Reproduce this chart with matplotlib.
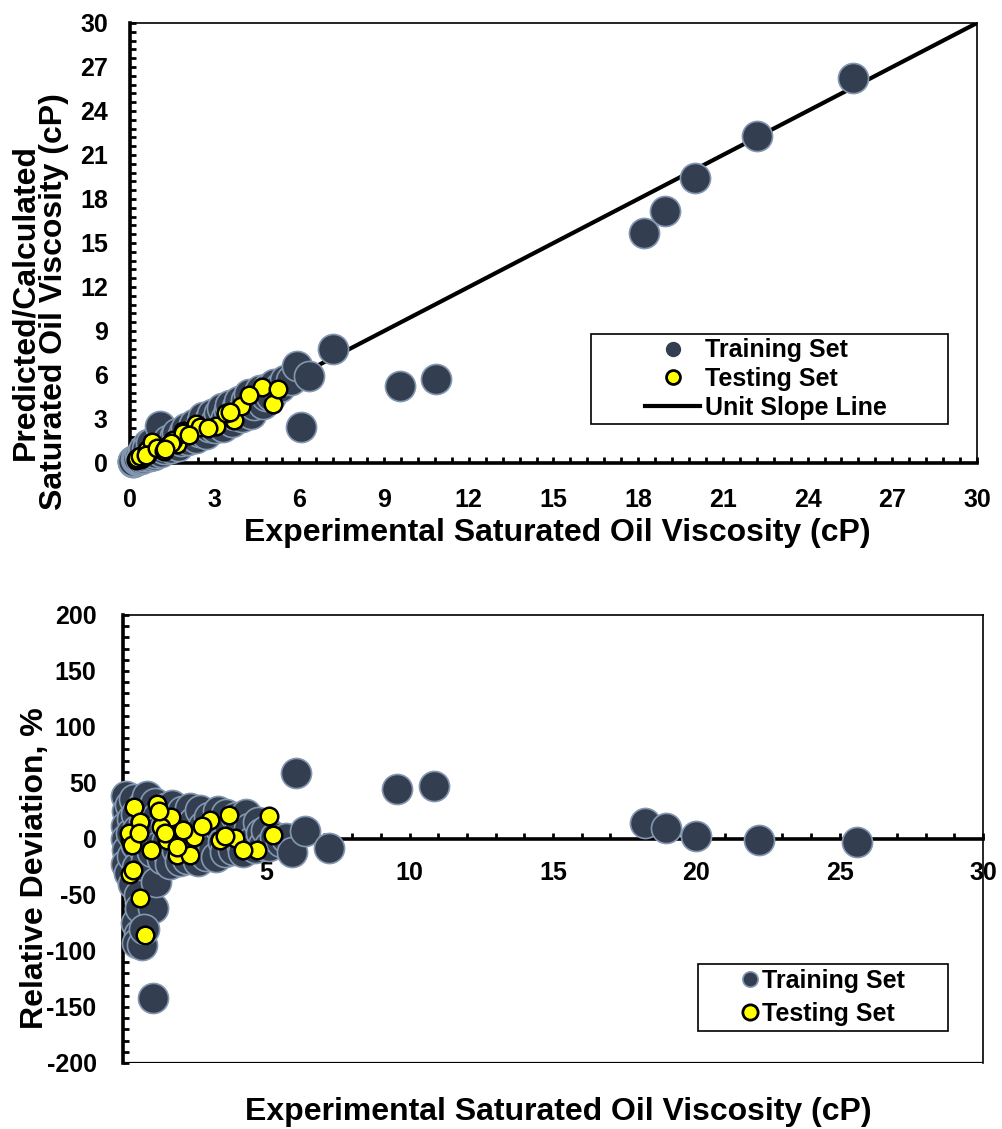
import numpy as np
import matplotlib
matplotlib.use('Agg')
import matplotlib.pyplot as plt
from matplotlib.lines import Line2D
from matplotlib.patches import Rectangle
from matplotlib.ticker import MultipleLocator, FuncFormatter

plt.rcParams['font.family'] = ['Liberation Sans', 'DejaVu Sans']
plt.rcParams['font.weight'] = 'bold'
plt.rcParams['axes.unicode_minus'] = False

# training set: experimental viscosity (cP) and relative deviation (%)
train_exp = [0.10, 0.15, 0.12, 0.10, 0.15, 0.12, 0.20, 0.25, 0.30, 0.28,
             0.30, 0.35, 0.40, 0.45, 0.50, 0.45, 0.50, 0.55, 0.45, 0.55,
             0.50, 0.65, 0.60, 0.70, 0.75, 0.70, 0.80, 0.85, 0.90, 0.95,
             1.00, 1.05, 1.15, 0.75, 1.05,
             1.10, 1.20, 1.25, 1.30, 1.35, 1.45, 1.50, 1.55, 1.60, 1.65,
             1.70, 1.80, 1.85, 1.90, 2.00, 2.05, 2.15, 2.20, 2.25, 2.35,
             2.45, 2.50, 2.55, 2.60,
             2.70, 2.80, 2.85, 2.90, 3.00, 3.05, 3.15, 3.25, 3.30, 3.40,
             3.50, 3.55, 3.60, 3.70, 3.80, 3.85, 3.95,
             4.05, 4.10, 4.20, 4.30, 4.40, 4.50, 4.60, 4.70, 4.80, 4.90,
             5.00, 5.10, 5.30, 5.50, 5.70, 5.90, 6.05, 6.35, 7.20,
             9.55, 10.85, 18.20, 18.95, 20.00, 22.20, 25.60]
train_rd = [38, 25, 12, 0, -10, -22, -30, 30, 18, 5,
            -15, -40, 36, 22, 8, -5, -25, -50, -75, -85,
            -93, -95, -62, 30, 15, -8, -20, 38, 25, 2,
            -12, -62, -38, -80, -142,
            32, 20, 8, -5, -18, 28, 12, -2, -15, -22,
            30, 18, 5, -10, -20, 25, 10, -3, -18, 28,
            15, 0, -12, -20,
            26, 12, -5, -15, 20, 5, -8, -16, 25, 10,
            -3, -12, 22, 12, 0, -10, 20,
            8, -4, -12, 22, 10, -2, -8, 15, 5, -5,
            8, -6, 2, -3, 1, -12, 59, 7, -8,
            45, 47, 14, 9.5, 3, -0.5, -2.5]

# testing set
test_exp = [0.38, 0.26, 0.22, 0.30, 0.26, 0.35, 0.59, 0.78, 0.61, 0.55,
            0.96, 1.19, 1.66, 1.31, 1.54, 1.89, 2.35, 2.47, 1.89, 1.45,
            2.10, 1.25, 3.05, 3.69, 3.40, 3.92, 4.68, 5.08, 5.23, 4.20,
            3.55, 2.75]
test_rd = [29, -1, 5, -5, -31, -28, -53, -86, 15, 5,
           -10, 31, 20, 11, -1, -14, -14, 2, -7, 5,
           8, 25, 17, 21, -1, 0.6, -10, 20.5, 4, -10,
           3, 12]

train_exp = np.array(train_exp)
train_rd = np.array(train_rd, dtype=float)
test_exp = np.array(test_exp)
test_rd = np.array(test_rd, dtype=float)
# predicted = experimental * (1 - RD/100)
train_pred = train_exp * (1 - train_rd / 100)
test_pred = test_exp * (1 - test_rd / 100)

NAVY = '#333F50'
EDGE = '#8497B0'
YEL = '#FFFF00'

W, H = 1003, 1129
fig = plt.figure(figsize=(W / 100, H / 100), dpi=100)

# ---- top: predicted vs experimental ----
ax1 = fig.add_axes([130 / W, 1 - 463 / H, (977 - 130) / W, (463 - 23) / H])
ax1.plot([0, 30], [0, 30], color='k', lw=3, zorder=2, solid_capstyle='butt')
ax1.scatter(train_exp, train_pred, s=470, c=NAVY, edgecolors=EDGE,
            linewidths=1.2, zorder=3, clip_on=False)
ax1.scatter(test_exp, test_pred, s=160, c=YEL, edgecolors='k',
            linewidths=1.8, zorder=4, clip_on=False)
ax1.set_xlim(0, 30)
ax1.set_ylim(0, 30)
for a in (ax1.xaxis, ax1.yaxis):
    a.set_major_locator(MultipleLocator(3))
    a.set_minor_locator(MultipleLocator(0.6))
ax1.tick_params(which='both', direction='in', length=4, width=2,
                top=False, right=False, labelsize=18)
ax1.tick_params(axis='x', pad=18)
ax1.tick_params(axis='y', pad=16)
for s in ('left', 'bottom'):
    ax1.spines[s].set_linewidth(2.6)
for s in ('top', 'right'):
    ax1.spines[s].set_linewidth(1.2)

h1 = [Line2D([], [], ls='', marker='o', ms=10, mfc=NAVY, mec=NAVY, label='Training Set'),
      Line2D([], [], ls='', marker='o', ms=10, mfc=YEL, mec='k', mew=2, label='Testing Set'),
      Line2D([], [], color='k', lw=3, label='Unit Slope Line')]
fig.legend(handles=h1, loc='center', bbox_to_anchor=(766 / W, 1 - 379 / H),
           frameon=False, fontsize=18, handlelength=2.2, handletextpad=0.2,
           labelspacing=0.18, borderpad=0)
fig.patches.append(Rectangle((591 / W, 1 - 424 / H), (948 - 591) / W, 90 / H,
                             transform=fig.transFigure, fill=False,
                             edgecolor='k', lw=1.2))

fig.text(557 / W, 1 - 533 / H, 'Experimental Saturated Oil Viscosity (cP)',
         ha='center', va='center', fontsize=23)
fig.text(40 / W, 1 - 302 / H, 'Predicted/Calculated\nSaturated Oil Viscosity (cP)',
         ha='center', va='center', rotation=90, fontsize=23, linespacing=0.95,
         multialignment='center')

# ---- bottom: relative deviation ----
ax2 = fig.add_axes([123 / W, 1 - 1063 / H, (983 - 123) / W, (1063 - 615) / H])
ax2.scatter(train_exp, train_rd, s=470, c=NAVY, edgecolors=EDGE,
            linewidths=1.2, zorder=3, clip_on=False)
ax2.scatter(test_exp, test_rd, s=160, c=YEL, edgecolors='k',
            linewidths=1.8, zorder=4, clip_on=False)
ax2.set_xlim(0, 30)
ax2.set_ylim(-200, 200)
ax2.spines['bottom'].set_position(('data', 0))
ax2.spines['bottom'].set_linewidth(2.6)
ax2.spines['left'].set_linewidth(2.6)
for s in ('top', 'right'):
    ax2.spines[s].set_linewidth(1.2)
ax2.axhline(-200, color='k', lw=1.6, zorder=2.5)
ax2.xaxis.set_major_locator(MultipleLocator(5))
ax2.xaxis.set_minor_locator(MultipleLocator(1))
ax2.xaxis.set_major_formatter(FuncFormatter(lambda v, p: '' if v == 0 else f'{v:g}'))
ax2.yaxis.set_major_locator(MultipleLocator(50))
ax2.yaxis.set_minor_locator(MultipleLocator(10))
ax2.tick_params(which='both', direction='in', length=4, width=2,
                top=False, right=False, labelsize=18)
ax2.tick_params(axis='x', pad=16)
ax2.tick_params(axis='y', pad=19)

h2 = [Line2D([], [], ls='', marker='o', ms=11, mfc=NAVY, mec=EDGE, mew=1.2, label='Training Set'),
      Line2D([], [], ls='', marker='o', ms=11, mfc=YEL, mec='k', mew=2, label='Testing Set')]
fig.legend(handles=h2, loc='center', bbox_to_anchor=(823 / W, 1 - 997.5 / H),
           frameon=False, fontsize=18, handlelength=0.7, handletextpad=0.15,
           labelspacing=0.35, borderpad=0)
fig.patches.append(Rectangle((698 / W, 1 - 1031 / H), (948 - 698) / W, 67 / H,
                             transform=fig.transFigure, fill=False,
                             edgecolor='k', lw=1.2))

fig.text(558 / W, 1 - 1112 / H, 'Experimental Saturated Oil Viscosity (cP)',
         ha='center', va='center', fontsize=23)
fig.text(35 / W, 1 - 868 / H, 'Relative Deviation, %',
         ha='center', va='center', rotation=90, fontsize=23)

fig.savefig('out.png', dpi=100)
